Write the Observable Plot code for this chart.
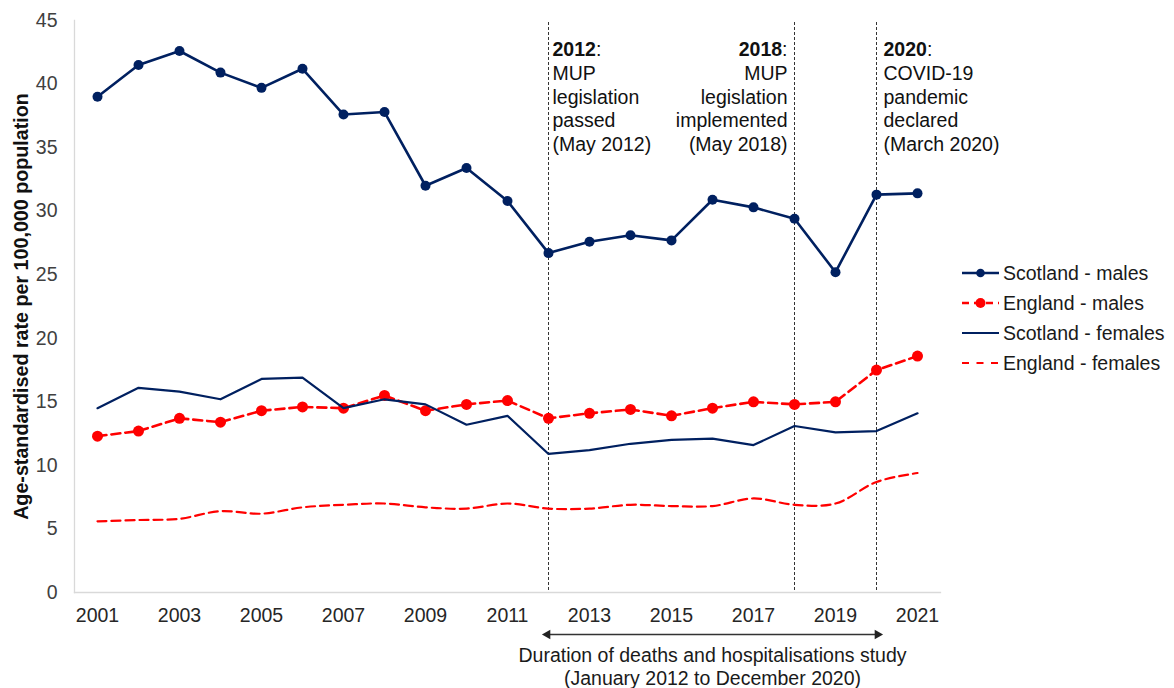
<!DOCTYPE html>
<html>
<head>
<meta charset="utf-8">
<script src="https://cdn.jsdelivr.net/npm/d3@7"></script>
<script src="https://cdn.jsdelivr.net/npm/@observablehq/plot@0.6"></script>
<style>
  body { margin: 0; background: #fff; }
  #chart svg { display: block; }
</style>
</head>
<body>
<div id="chart"></div>
<script>
// ---------- data ----------
const years = ["2001","2002","2003","2004","2005","2006","2007","2008","2009","2010","2011",
               "2012","2013","2014","2015","2016","2017","2018","2019","2020","2021"];
const scotlandMales   = [39.0,41.5,42.6,40.9,39.7,41.2,37.6,37.8,32.0,33.4,30.8,26.7,27.6,28.1,27.7,30.9,30.3,29.4,25.2,31.3,31.4];
const englandMales    = [12.3,12.7,13.7,13.4,14.3,14.6,14.5,15.5,14.3,14.8,15.1,13.7,14.1,14.4,13.9,14.5,15.0,14.8,15.0,17.5,18.6];
const scotlandFemales = [14.5,16.1,15.8,15.2,16.8,16.9,14.5,15.2,14.8,13.2,13.9,10.9,11.2,11.7,12.0,12.1,11.6,13.1,12.6,12.7,14.1];
const englandFemales  = [5.6,5.7,5.8,6.4,6.2,6.7,6.9,7.0,6.7,6.6,7.0,6.6,6.6,6.9,6.8,6.8,7.4,6.9,7.0,8.7,9.4];

const seriesNames = ["Scotland - males","England - males","Scotland - females","England - females"];
const yTicks = [0,5,10,15,20,25,30,35,40,45];
const xTickLabels = ["2001","2003","2005","2007","2009","2011","2013","2015","2017","2019","2021"];
const yLabel = "Age-standardised rate per 100,000 population";

const eventYears = ["2012","2018","2020"];
const eventTexts = [
  "2012:\nMUP\nlegislation\npassed\n(May 2012)",
  "2018:\nMUP\nlegislation\nimplemented\n(May 2018)",
  "2020:\nCOVID-19\npandemic\ndeclared\n(March 2020)"
];
const studyStart = "2012", studyEnd = "2020", studyMid = "2016";
const studyCaption = "Duration of deaths and hospitalisations study\n(January 2012 to December 2020)";

// ---------- tables ----------
const toRows = vals => years.map((year, i) => ({year, value: vals[i]}));
const sm = toRows(scotlandMales), em = toRows(englandMales),
      sf = toRows(scotlandFemales), ef = toRows(englandFemales);
const events = eventYears.map((year, i) => ({year, text: eventTexts[i]}));
const study = [{start: studyStart, end: studyEnd, mid: studyMid, base: 0, caption: studyCaption}];

// ---------- styles ----------
const NAVY = "#002060", RED = "#ff0000";
const FONT = "'Liberation Sans', Arial, sans-serif";
const FS = 19.5;

const eventMark = (year, anchor, dx) =>
  Plot.text(events.filter(d => d.year === year), {
    x: "year", text: "text", frameAnchor: "top", lineAnchor: "top",
    textAnchor: anchor, dx, dy: 19, lineHeight: 1.215, fill: "#111", fontSize: FS
  });

const chart = Plot.plot({
  width: 1174,
  height: 688,
  marginLeft: 74,
  marginRight: 234,
  marginTop: 20,
  marginBottom: 96,
  style: {fontFamily: FONT, fontSize: FS + "px", color: "#404040", background: "#fff"},
  x: {type: "point", domain: years, padding: 0.5},
  y: {domain: [0, 45]},
  marks: [
    Plot.frame({anchor: "left", stroke: "#d9d9d9", strokeWidth: 1.3}),
    Plot.frame({anchor: "bottom", stroke: "#d9d9d9", strokeWidth: 1.3}),
    Plot.axisY({ticks: yTicks, tickSize: 0, tickPadding: 17, label: null, fill: "#404040"}),
    Plot.axisX({ticks: xTickLabels, tickSize: 0, tickPadding: 16, label: null, fill: "#262626"}),
    // event rules
    Plot.ruleX(events, {x: "year", insetTop: 2, stroke: "#333", strokeWidth: 1, strokeDasharray: "3,2"}),
    // series (Excel order: later on top)
    Plot.line(sm, {x: "year", y: "value", stroke: NAVY, strokeWidth: 2.6}),
    Plot.dot(sm, {x: "year", y: "value", fill: NAVY, r: 5}),
    Plot.line(em, {x: "year", y: "value", stroke: RED, strokeWidth: 2.6, strokeDasharray: "9,5"}),
    Plot.dot(em, {x: "year", y: "value", fill: RED, r: 5.5}),
    Plot.line(sf, {x: "year", y: "value", stroke: NAVY, strokeWidth: 2.2}),
    Plot.line(ef, {x: "year", y: "value", stroke: RED, strokeWidth: 2.2, strokeDasharray: "9,5", curve: "catmull-rom"}),
    // annotations
    eventMark("2012", "start", 4),
    eventMark("2018", "end", -7),
    eventMark("2020", "start", 7),
    // study duration arrow
    Plot.ruleY(study, {x1: "start", x2: "end", y: "base", dy: 42, insetLeft: -3, insetRight: -3, stroke: "#333", strokeWidth: 1.4}),
    Plot.dot(study, {x: "start", y: "base", dy: 42, dx: -1, symbol: "triangle", r: 3.6, rotate: -90, fill: "#222", stroke: "none"}),
    Plot.dot(study, {x: "end", y: "base", dy: 42, dx: 1, symbol: "triangle", r: 3.6, rotate: 90, fill: "#222", stroke: "none"}),
    Plot.text(study, {x: "mid", y: "base", text: "caption", dy: 73.5, lineAnchor: "middle", textAnchor: "middle", lineHeight: 1.2, fill: "#1a1a1a", fontSize: FS}),
    // y label
    Plot.text([yLabel], {frameAnchor: "left", textAnchor: "middle", lineAnchor: "middle", rotate: -90, dx: -53, fontWeight: "bold", fill: "#111", fontSize: 19.7})
  ]
});

// bold the year in each event headline ("2012:" -> bold 2012 + ":")
d3.select(chart).selectAll("tspan").each(function() {
  const t = this.textContent;
  const m = /^(\d{4}):$/.exec(t);
  if (m && this.children.length === 0) {
    const s = d3.select(this);
    s.text(null);
    s.append("tspan").attr("font-weight", "bold").text(m[1]);
    s.append("tspan").text(":");
  }
});

// legend
const legendStyles = [
  {color: NAVY, width: 2.6, dash: null, dot: 4.3},
  {color: RED, width: 2.6, dash: "7,5", dot: 5},
  {color: NAVY, width: 2.2, dash: null, dot: 0},
  {color: RED, width: 2.2, dash: "7,7.5", dot: 0}
];
const lg = d3.select(chart).append("g")
  .attr("font-family", FONT).attr("font-size", FS).attr("text-anchor", "start");
seriesNames.forEach((name, i) => {
  const st = legendStyles[i];
  const y = 273 + i * 30;
  lg.append("line").attr("x1", 962).attr("x2", 999).attr("y1", y).attr("y2", y)
    .attr("stroke", st.color).attr("stroke-width", st.width)
    .attr("stroke-dasharray", st.dash);
  if (st.dot) lg.append("circle").attr("cx", 980.5).attr("cy", y).attr("r", st.dot).attr("fill", st.color);
  lg.append("text").attr("x", 1003).attr("y", y).attr("dy", "0.35em")
    .attr("text-anchor", "start").attr("fill", "#1a1a1a").text(name);
});

document.getElementById("chart").appendChild(chart);
</script>
</body>
</html>
